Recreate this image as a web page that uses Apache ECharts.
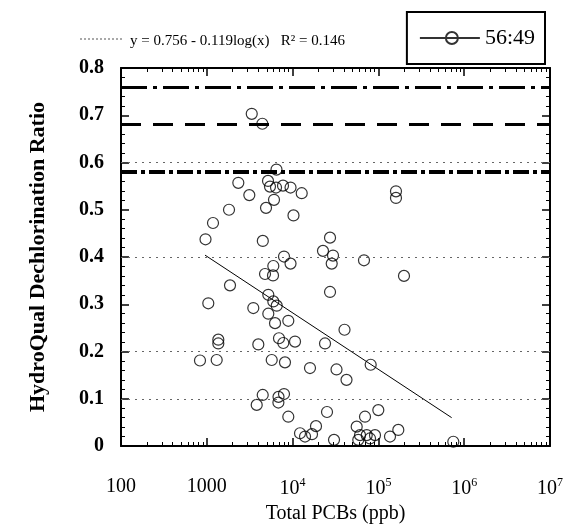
<!DOCTYPE html>
<html>
<head>
<meta charset="utf-8">
<script src="https://cdn.jsdelivr.net/npm/echarts@6/dist/echarts.min.js"></script>
<style>html,body{margin:0;padding:0;background:#fff}#c{width:565px;height:524px}</style>
</head>
<body>
<div id="c"></div>
<script>
// ---- data ----
const pcb = [3340,4440,6490,2330,5170,5450,6410,7730,9460,12770,3130,6070,4900,1815,10240,1181,966,4495,27300,22600,29580,28560,7940,9460,5960,4770,5910,1864,27300,1041,3483,5210,5960,6530,5210,6240,8910,40270,1362,1362,6940,7790,10670,3985,23870,833,1304,5710,8150,15950,32490,42490,4484,6850,7940,6830,3817,8910,25180,18740,12200,13960,16830,30390,198700,67920,160300,160300,81300,99770,69800,55850,61050,73080,91250,79850,58290,136500,170600,746400];
const ratio = [0.703,0.682,0.585,0.557,0.561,0.549,0.547,0.551,0.547,0.535,0.531,0.521,0.504,0.500,0.488,0.472,0.4375,0.434,0.441,0.413,0.403,0.386,0.401,0.386,0.381,0.364,0.361,0.340,0.326,0.302,0.292,0.320,0.306,0.297,0.280,0.260,0.265,0.246,0.225,0.217,0.228,0.218,0.221,0.215,0.217,0.181,0.182,0.182,0.177,0.165,0.162,0.140,0.108,0.104,0.110,0.092,0.087,0.062,0.072,0.042,0.027,0.020,0.025,0.013,0.360,0.393,0.539,0.525,0.172,0.076,0.062,0.041,0.023,0.023,0.023,0.016,0.013,0.020,0.034,0.009];
const fitX = [953, 714000];
const fitY = [0.404, 0.060];
const refLevels = [0.756, 0.684, 0.58];
const gridLevels = [0.1, 0.2, 0.4, 0.6];
const yTickLabels = ['0','0.1','0.2','0.3','0.4','0.5','0.6','0.7','0.8'];
const xTickValues = [100, 1000, 1e4, 1e5, 1e6, 1e7];
const xTickLabels = ['100', '1000', '10{s|4}', '10{s|5}', '10{s|6}', '10{s|7}'];
const seriesName = '56:49';
const equation = 'y = 0.756 - 0.119log(x)   R\u00B2 = 0.146';

const FONT = '"Liberation Serif","Times New Roman",serif';
const minorX = [];
for (let i = 0; i < xTickValues.length - 1; i++) for (let k = 2; k <= 9; k++) minorX.push(k * xTickValues[i]);

const chart = echarts.init(document.getElementById('c'));
const xBase = {type:'log', logBase:10, min:100, max:1e7, splitLine:{show:false}};
const frameLine = {show:true, lineStyle:{color:'#000', width:2}};
chart.setOption({
  animation:false,
  backgroundColor:'#fff',
  grid:{left:121, right:15, top:68, bottom:78, containLabel:false, outerBoundsMode:'none'},
  legend:{
    data:[seriesName], right:20, top:12, orient:'horizontal',
    borderColor:'#000', borderWidth:2, padding:[15,10,15,12],
    itemWidth:60, itemHeight:12, itemGap:8,
    icon:'path://M0,6L60,6M26,6a6,6 0 1,0 12,0a6,6 0 1,0 -12,0',
    textStyle:{fontFamily:FONT, fontSize:22, color:'#000'}
  },
  graphic:[
    {type:'line', shape:{x1:80,y1:39,x2:124,y2:39}, style:{stroke:'#555', lineWidth:1, lineDash:[2,2]}},
    {type:'text', left:130, top:34, style:{text:equation, font:'15px '+FONT, fill:'#000'}}
  ],
  xAxis:[
    Object.assign({}, xBase, {position:'bottom', axisLine:frameLine,
      axisTick:{inside:true, length:8, customValues:xTickValues, lineStyle:{color:'#000', width:1.5}},
      axisLabel:{customValues:xTickValues, margin:31, color:'#000', fontFamily:FONT, fontSize:20,
        formatter:function(v){const i = xTickValues.findIndex(t=>Math.abs(Math.log10(t)-Math.log10(v))<1e-6); return i>=0?xTickLabels[i]:'';},
        rich:{s:{fontSize:12, fontFamily:FONT, color:'#000', padding:[0,0,12,0]}}},
      name:'Total PCBs (ppb)', nameLocation:'middle', nameGap:54,
      nameTextStyle:{fontFamily:FONT, fontSize:20, color:'#000'}}),
    Object.assign({}, xBase, {position:'bottom', axisLine:{show:false},
      axisTick:{inside:true, length:4, customValues:minorX, lineStyle:{color:'#000', width:1}},
      axisLabel:{show:false}}),
    Object.assign({}, xBase, {position:'top', axisLine:frameLine,
      axisTick:{inside:true, length:8, customValues:xTickValues, lineStyle:{color:'#000', width:1.5}},
      axisLabel:{show:false}}),
    Object.assign({}, xBase, {position:'top', axisLine:{show:false},
      axisTick:{inside:true, length:4, customValues:minorX, lineStyle:{color:'#000', width:1}},
      axisLabel:{show:false}})
  ],
  yAxis:[
    {type:'value', min:0, max:0.8, interval:0.1, position:'left', axisLine:frameLine,
      axisTick:{inside:true, length:8, lineStyle:{color:'#000', width:1.5}},
      minorTick:{show:true, splitNumber:5, length:4, lineStyle:{color:'#000', width:1}},
      splitLine:{show:false},
      axisLabel:{margin:17, color:'#000', fontFamily:FONT, fontSize:20, fontWeight:'bold',
        formatter:function(v){return yTickLabels[Math.round(v*10)];}},
      name:'HydroQual Dechlorination Ratio', nameLocation:'middle', nameGap:72,
      nameTextStyle:{fontFamily:FONT, fontSize:22, fontWeight:'bold', color:'#000'}},
    {type:'value', min:0, max:0.8, interval:0.1, position:'right', axisLine:frameLine,
      axisTick:{inside:true, length:8, lineStyle:{color:'#000', width:1.5}},
      minorTick:{show:true, splitNumber:5, length:4, lineStyle:{color:'#000', width:1}},
      splitLine:{show:false}, axisLabel:{show:false}}
  ],
  series:[
    {type:'line', name:'grid', silent:true, data:[], markLine:{silent:true, symbol:'none', label:{show:false},
      lineStyle:{color:'#666', width:1, type:[2,5]},
      data:gridLevels.map(v=>({yAxis:v}))}},
    {type:'line', name:'refs', silent:true, data:[], markLine:{silent:true, symbol:'none', label:{show:false},
      data:[
        {yAxis:refLevels[0], lineStyle:{color:'#000', width:3, type:[26,6,4,6]}},
        {yAxis:refLevels[1], lineStyle:{color:'#000', width:3, type:[20,12]}},
        {yAxis:refLevels[2], lineStyle:{color:'#000', width:4, type:[16,4,4,4]}}
      ]}},
    {type:'line', name:'fit', silent:true, symbol:'none', data:fitX.map((x,i)=>[x,fitY[i]]),
      lineStyle:{color:'#000', width:1}},
    {type:'scatter', name:seriesName, data:pcb.map((x,i)=>[x,ratio[i]]), symbol:'circle', symbolSize:11,
      itemStyle:{color:'rgba(0,0,0,0)', borderColor:'#000', borderWidth:1.2}}
  ]
});
</script>
</body>
</html>
